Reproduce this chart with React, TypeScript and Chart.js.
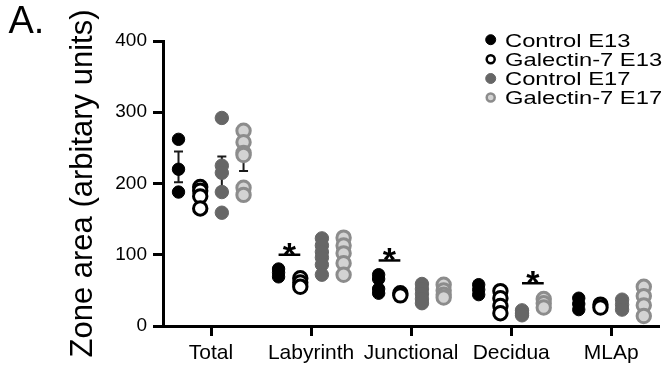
import React, { useEffect, useRef } from 'react';
import { Chart, registerables } from 'chart.js';

Chart.register(...registerables);

const categories = ['Total', 'Labyrinth', 'Junctional', 'Decidua', 'MLAp'];
const seriesNames = ['Control E13', 'Galectin-7 E13', 'Control E17', 'Galectin-7 E17'];
// values per category, in category order
const controlE13 = [[262, 220, 188], [80, 75, 69], [72, 66, 52, 46], [58, 51, 44], [39, 31, 23]];
const galectinE13 = [[195, 190, 182, 165], [67, 61, 55], [46, 43], [49, 39, 28, 18], [30, 26]];
const controlE17 = [[292, 225, 215, 188, 159], [123, 113, 104, 96, 86, 72], [59, 52, 45, 38, 32], [22, 18, 15], [37, 30, 23]];
const galectinE17 = [[274, 258, 243, 240, 194, 184], [124, 113, 102, 88, 72], [58, 50, 44, 40], [38, 32, 26], [55, 42, 29, 14]];
const yTicks = [0, 100, 200, 300, 400];
const sigGroup = [1, 2, 3];
const sigFrom = [0, 0, 2];
const sigTo = [1, 1, 3];
const sigY = [100, 92, 60];

const FONT = "'Liberation Sans', Arial, sans-serif";
const offsets = [-0.325, -0.108, 0.108, 0.325];
const allSeries = [controlE13, galectinE13, controlE17, galectinE17];
const styles = [
  { bg: '#000000', border: '#000000', bw: 1, r: 6.2, lr: 5, lbw: 1 },
  { bg: '#ffffff', border: '#000000', bw: 3, r: 6.7, lr: 4, lbw: 2.5 },
  { bg: '#666666', border: '#666666', bw: 1, r: 6.7, lr: 5, lbw: 1 },
  { bg: '#d3d3d3', border: '#8c8c8c', bw: 3, r: 6.7, lr: 4, lbw: 2.5 },
];

const errorBarPlugin = {
  id: 'errorBars',
  beforeDatasetsDraw(chart: any) {
    const { ctx, scales } = chart;
    const x = scales.x, y = scales.y;
    ctx.save();
    allSeries.forEach((series, s) => {
      series.forEach((vals, g) => {
        if (vals.length < 2) return;
        const mean = vals.reduce((a, b) => a + b, 0) / vals.length;
        const sd = Math.sqrt(vals.reduce((a, b) => a + (b - mean) ** 2, 0) / (vals.length - 1));
        const sem = sd / Math.sqrt(vals.length);
        const px = x.getPixelForValue(g + offsets[s]);
        const yt = y.getPixelForValue(mean + sem);
        const yb = y.getPixelForValue(mean - sem);
        ctx.strokeStyle = '#1a1a1a';
        ctx.lineWidth = 2;
        ctx.beginPath();
        ctx.moveTo(px, yt); ctx.lineTo(px, yb);
        ctx.moveTo(px - 4.5, yt); ctx.lineTo(px + 4.5, yt);
        ctx.moveTo(px - 4.5, yb); ctx.lineTo(px + 4.5, yb);
        ctx.stroke();
      });
    });
    ctx.restore();
  },
};

const annotPlugin = {
  id: 'annot',
  afterDraw(chart: any) {
    const { ctx, scales } = chart;
    const x = scales.x, y = scales.y;
    ctx.save();
    // significance bars
    sigGroup.forEach((g, i) => {
      const x1 = x.getPixelForValue(g + offsets[sigFrom[i]]);
      const x2 = x.getPixelForValue(g + offsets[sigTo[i]]);
      const py = y.getPixelForValue(sigY[i]);
      ctx.strokeStyle = '#000';
      ctx.lineWidth = 2.5;
      ctx.beginPath();
      ctx.moveTo(x1, py); ctx.lineTo(x2, py);
      ctx.stroke();
      ctx.fillStyle = '#000';
      ctx.font = `bold 34px ${FONT}`;
      ctx.textAlign = 'center';
      ctx.textBaseline = 'alphabetic';
      ctx.fillText('*', (x1 + x2) / 2, py + 11);
    });
    // legend
    const markX = 490.7, textX = 505;
    const rowY = [39.7, 59.2, 78.5, 97.5];
    seriesNames.forEach((name, i) => {
      const st = styles[i];
      ctx.beginPath();
      ctx.arc(markX, rowY[i], st.lr, 0, Math.PI * 2);
      ctx.fillStyle = st.bg;
      ctx.fill();
      ctx.lineWidth = st.lbw;
      ctx.strokeStyle = st.border;
      ctx.stroke();
      ctx.save();
      ctx.translate(textX, rowY[i] + 6.8);
      ctx.scale(1.25, 1);
      ctx.fillStyle = '#000';
      ctx.font = `19px ${FONT}`;
      ctx.textAlign = 'left';
      ctx.textBaseline = 'alphabetic';
      ctx.fillText(name, 0, 0);
      ctx.restore();
    });
    // panel letter
    ctx.fillStyle = '#000';
    ctx.font = `38px ${FONT}`;
    ctx.textAlign = 'left';
    ctx.textBaseline = 'alphabetic';
    ctx.fillText('A.', 8.5, 33.3);
    ctx.restore();
  },
};

export default function App() {
  const ref = useRef<HTMLCanvasElement>(null);
  useEffect(() => {
    if (!ref.current) return;
    const datasets = allSeries.map((series, s) => ({
      label: seriesNames[s],
      data: series.flatMap((vals, g) => vals.map((v) => ({ x: g + offsets[s], y: v }))),
      backgroundColor: styles[s].bg,
      borderColor: styles[s].border,
      borderWidth: styles[s].bw,
      pointRadius: styles[s].r,
      pointHoverRadius: styles[s].r,
      clip: false as any,
    }));
    const chart = new Chart(ref.current, {
      type: 'scatter',
      data: { datasets },
      options: {
        responsive: false,
        animation: false,
        devicePixelRatio: 1,
        layout: { padding: { top: 41, right: 2, bottom: 0, left: 0 } },
        plugins: { legend: { display: false }, tooltip: { enabled: false } },
        scales: {
          x: {
            type: 'linear',
            min: -0.48,
            max: 4.48,
            afterBuildTicks: (scale: any) => {
              scale.ticks = categories.map((_, i) => ({ value: i }));
            },
            afterFit: (scale: any) => {
              scale.height = 40;
            },
            ticks: {
              callback: (v: any) => categories[v] ?? '',
              color: '#000',
              font: { family: FONT, size: 21 },
              padding: 5,
              autoSkip: false,
              maxRotation: 0,
            },
            grid: { display: true, drawOnChartArea: false, drawTicks: true, tickLength: 10, tickWidth: 3, tickColor: '#000' },
            border: { display: true, width: 3, color: '#000' },
          },
          y: {
            type: 'linear',
            min: 0,
            max: 400,
            afterBuildTicks: (scale: any) => {
              scale.ticks = yTicks.map((v) => ({ value: v }));
            },
            afterFit: (scale: any) => {
              scale.width = 163;
            },
            ticks: { color: '#000', font: { family: FONT, size: 19 }, padding: 6 },
            grid: { display: true, drawOnChartArea: false, drawTicks: true, tickLength: 10, tickWidth: 3, tickColor: '#000' },
            border: { display: true, width: 3, color: '#000' },
            title: {
              display: true,
              text: 'Zone area (arbitary units)',
              color: '#000',
              font: { family: FONT, size: 31 },
              padding: { top: 65, bottom: 0 },
            },
          },
        },
      },
      plugins: [errorBarPlugin, annotPlugin],
    });
    return () => chart.destroy();
  }, []);
  return (
    <div style={{ position: 'fixed', left: 0, top: 0, width: 669, height: 366, background: '#fff' }}>
      <canvas ref={ref} width={669} height={366} style={{ display: 'block' }} />
    </div>
  );
}
